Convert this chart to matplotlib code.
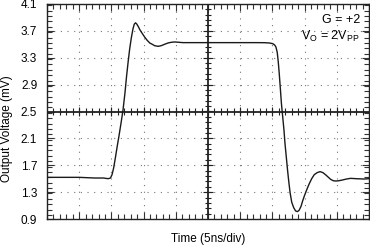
import numpy as np
import matplotlib.pyplot as plt
from matplotlib.ticker import MultipleLocator

plt.rcParams['font.family'] = ['Liberation Sans', 'DejaVu Sans']
plt.rcParams['mathtext.fontset'] = 'custom'
plt.rcParams['mathtext.rm'] = 'Liberation Sans'

# waveform (time in divisions, output in mV)
t_div = [0.0, 0.5, 1.0, 1.49, 1.75, 1.90, 1.97, 2.02, 2.07, 2.13, 2.18, 2.23,
         2.30, 2.36, 2.42, 2.47, 2.52, 2.57, 2.62, 2.67, 2.71, 2.75, 2.79,
         2.84, 2.88, 2.96, 3.03, 3.11, 3.19, 3.27, 3.34, 3.45, 3.55, 3.65,
         3.76, 3.86, 3.96, 4.10, 4.22, 4.5, 5.0, 5.5, 6.0, 6.5, 6.75, 6.90,
         7.01, 7.07, 7.11, 7.15, 7.18, 7.21, 7.25, 7.28, 7.32, 7.36, 7.39,
         7.43, 7.47, 7.51, 7.55, 7.60, 7.66, 7.72, 7.78, 7.83, 7.89, 7.94,
         7.99, 8.07, 8.14, 8.22, 8.30, 8.39, 8.48, 8.57, 8.66, 8.74, 8.81,
         8.89, 8.97, 9.07, 9.17, 9.30, 9.43, 9.60, 9.85, 10.0]
v_out = [1.52, 1.52, 1.52, 1.51, 1.51, 1.50, 1.51, 1.56, 1.66, 1.83, 1.98, 2.12,
         2.33, 2.52, 2.77, 3.02, 3.24, 3.44, 3.60, 3.73, 3.80, 3.82, 3.80,
         3.76, 3.72, 3.66, 3.61, 3.56, 3.52, 3.50, 3.48, 3.47, 3.48, 3.50,
         3.52, 3.53, 3.535, 3.53, 3.525, 3.525, 3.525, 3.525, 3.525, 3.525, 3.524, 3.52,
         3.51, 3.49, 3.46, 3.38, 3.25, 3.08, 2.82, 2.62, 2.42, 2.22, 2.03,
         1.83, 1.63, 1.45, 1.29, 1.15, 1.07, 1.02, 1.01, 1.03, 1.09, 1.17,
         1.24, 1.34, 1.42, 1.50, 1.56, 1.59, 1.605, 1.59, 1.555, 1.52, 1.49,
         1.47, 1.465, 1.47, 1.48, 1.495, 1.505, 1.50, 1.495, 1.50]

x_min, x_max = 0, 10
y_min, y_max = 0.9, 4.1
y_labels = ['0.9', '1.3', '1.7', '2.1', '2.5', '2.9', '3.3', '3.7', '4.1']

fig = plt.figure(figsize=(3.7, 2.45), dpi=100)
ax = fig.add_axes([47/370, 26/245, 322/370, 215/245])

ax.plot(t_div, v_out, color='#1a1a1a', lw=1.0, zorder=5)

ax.set_xlim(x_min, x_max)
ax.set_ylim(y_min, y_max)
ax.xaxis.set_major_locator(MultipleLocator(1))
ax.xaxis.set_minor_locator(MultipleLocator(0.2))
ax.yaxis.set_major_locator(MultipleLocator(0.4))
ax.yaxis.set_minor_locator(MultipleLocator(0.08))
ax.set_yticks(np.arange(0.9, 4.11, 0.4))
ax.set_yticklabels(y_labels)
ax.set_xticklabels([])
ax.tick_params(which='both', direction='in', top=True, right=True,
               color='#333333', width=0.8)
ax.tick_params(which='major', length=5)
ax.tick_params(which='minor', length=3.5)
ax.tick_params(axis='y', labelsize=8.5, pad=7)
ax.grid(which='major', linestyle=(0, (1, 5)), color='#777777', lw=0.8)
for s in ax.spines.values():
    s.set_linewidth(1.0)
    s.set_color('#222222')

# centre cross with ticks
xc, yc = 5, 2.5
ax.axhline(yc, color='#222222', lw=1.3, zorder=3)
ax.axvline(xc, color='#222222', lw=1.3, zorder=3)
xm = np.arange(0.2, 10, 0.2)
ym = np.arange(0.98, 4.1, 0.08)
dy = 0.045
dx = 0.09
ax.vlines(xm, yc - dy, yc + dy, color='#222222', lw=0.8, zorder=3)
ax.hlines(ym, xc - dx, xc + dx, color='#222222', lw=0.8, zorder=3)
xM = np.arange(1, 10, 1)
yM = np.arange(1.3, 4.1, 0.4)
ax.vlines(xM, yc - 1.6 * dy, yc + 1.6 * dy, color='#222222', lw=0.8, zorder=3)
ax.hlines(yM, xc - 1.6 * dx, xc + 1.6 * dx, color='#222222', lw=0.8, zorder=3)

ax.set_xlabel('Time (5ns/div)', fontsize=8.5)
ax.xaxis.set_label_coords(0.5, -0.065)
ax.xaxis.label.set_va('top')
ax.set_ylabel('Output Voltage (mV)', fontsize=8.5)
ax.yaxis.label.set_va('center')
ax.yaxis.set_label_coords(-0.123, 0.42)

ax.text(0.972, 0.955, 'G = +2', transform=ax.transAxes, ha='right', va='top',
        fontsize=9)
ax.text(0.972, 0.885, r'V$_{\rm O}$ = 2V$_{\rm PP}$', transform=ax.transAxes,
        ha='right', va='top', fontsize=9)

fig.savefig('out.png', dpi=100)
